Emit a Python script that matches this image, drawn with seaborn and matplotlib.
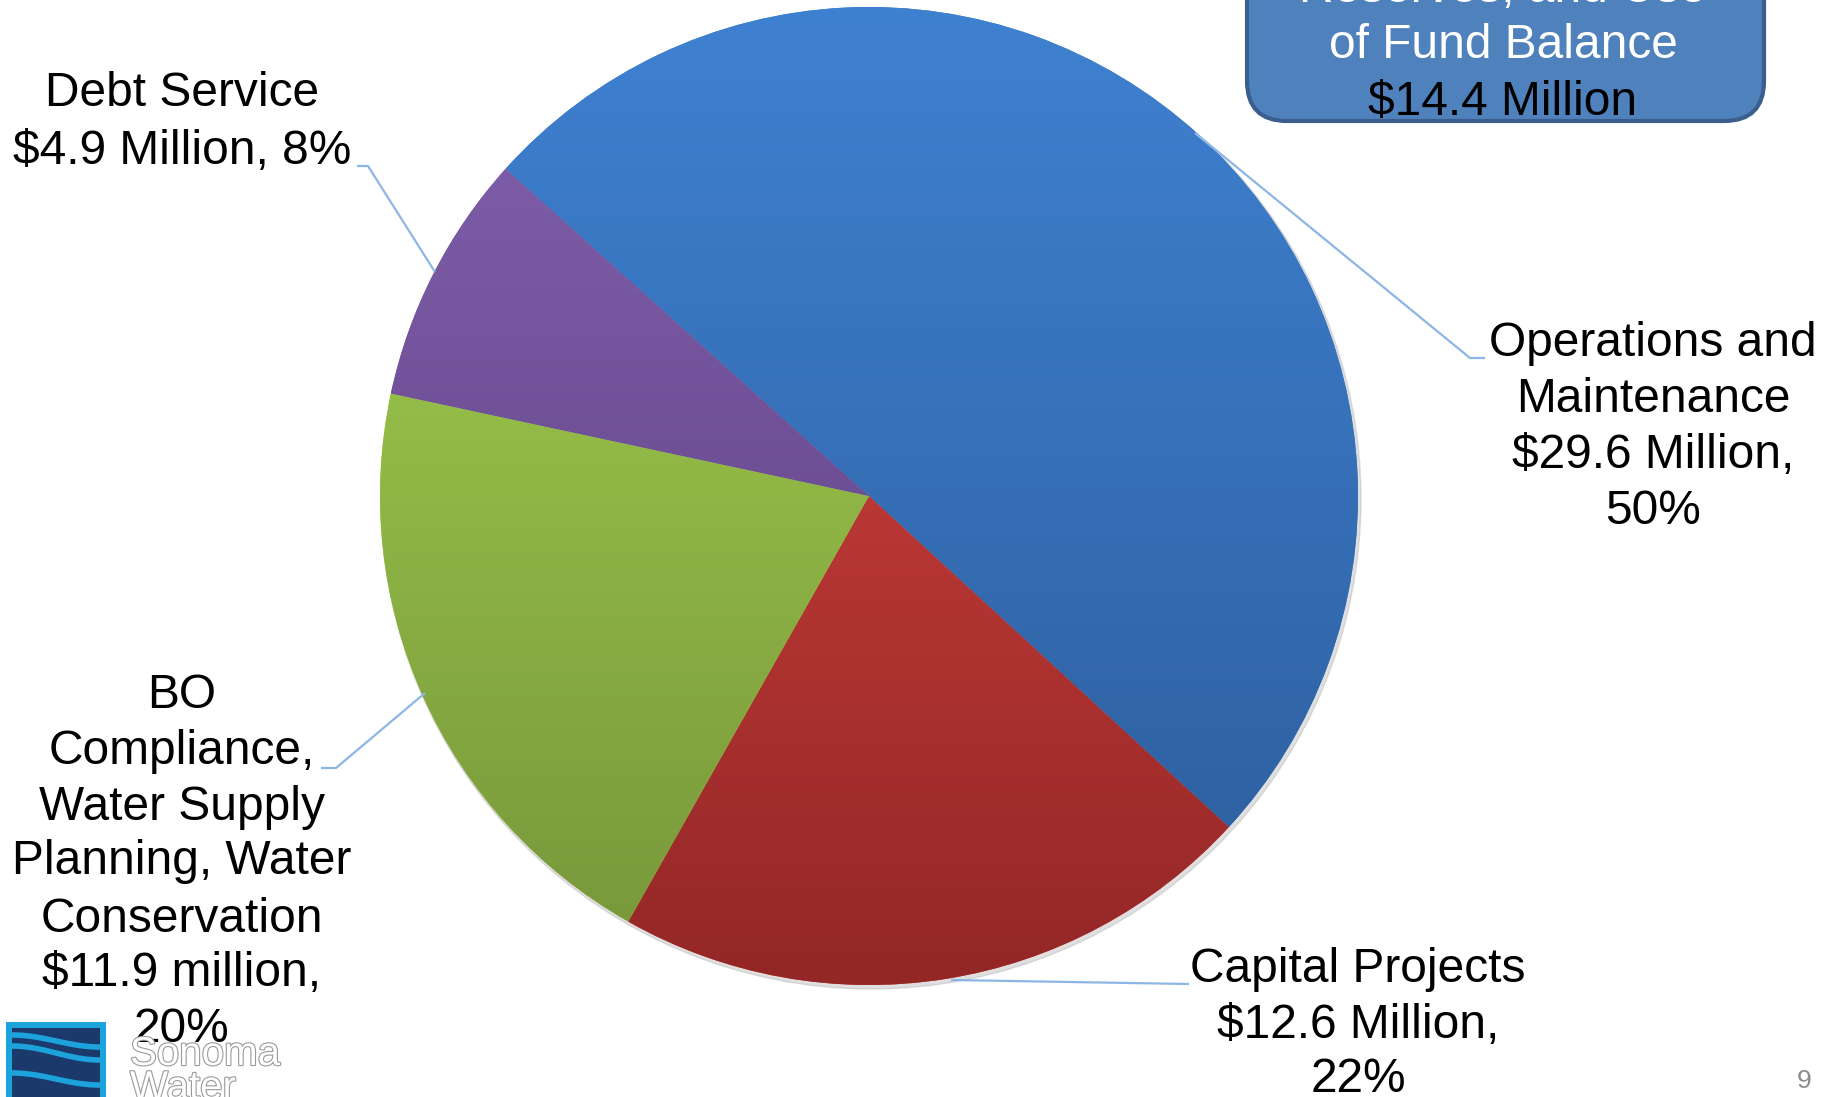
import numpy as np
import matplotlib.pyplot as plt
import matplotlib.patheffects as pe
from matplotlib.colors import LinearSegmentedColormap
from matplotlib.patches import FancyBboxPatch, Rectangle, Circle
import seaborn as sns

# 데이터 (단위: 백만 달러)
categories = ["Operations and Maintenance", "Capital Projects",
              "BO Compliance, Water Supply Planning, Water Conservation",
              "Debt Service"]
amounts = [29.6, 12.6, 11.9, 4.9]
label_lines = [
    ["Operations and", "Maintenance", "$29.6 Million,", "50%"],
    ["Capital Projects", "$12.6 Million,", "22%"],
    ["BO", "Compliance,", "Water Supply", "Planning, Water", "Conservation",
     "$11.9 million,", "20%"],
    ["Debt Service", "$4.9 Million, 8%"],
]
box_lines = ["Reserves, and Use", "of Fund Balance", "$14.4 Million"]

# 조각별 그라데이션 색 (위 -> 아래)
grad_colors = [("#3F81D1", "#2C5C9A"), ("#E04844", "#932726"),
               ("#A8D651", "#76953A"), ("#8562B0", "#553C79")]

sns.set_theme(style="white")
plt.rcParams['font.family'] = ['Liberation Sans', 'DejaVu Sans']

W, H = 1837, 1097
fig = plt.figure(figsize=(W / 100, H / 100), dpi=100)
ax = fig.add_axes([0, 0, 1, 1])

cx, cy, r = 869, 601, 489

# 그림자
ax.add_patch(Circle((cx + 2, cy - 3), r + 1, color="#b8b8b8", alpha=0.45, zorder=1))

wedges, _ = ax.pie(amounts, startangle=138, counterclock=False, center=(cx, cy),
                   radius=r, colors=[c[0] for c in grad_colors],
                   wedgeprops=dict(linewidth=0, zorder=2))

grad = np.linspace(0, 1, 256).reshape(-1, 1)
for w, (c_top, c_bot) in zip(wedges, grad_colors):
    cmap = LinearSegmentedColormap.from_list("g", [c_top, c_bot])
    im = ax.imshow(grad, cmap=cmap, extent=[cx - r, cx + r, cy - r, cy + r],
                   origin="upper", aspect="auto", zorder=3)
    im.set_clip_path(w)

# 연결선
line_color = "#8EB6E4"
connectors = [
    [(1195, 964), (1470, 739), (1485, 739)],
    [(951, 117), (1189, 113)],
    [(425, 404), (336, 329), (321, 329)],
    [(435, 825), (368, 931), (357, 931)],
]
for pts in connectors:
    xs, ys = zip(*pts)
    ax.plot(xs, ys, color=line_color, lw=1.6, zorder=4, solid_capstyle="butt")

# 레이블
fs = 34.5
label_pos = [(1653, [344, 400, 456, 511]),
             (1358, [969, 1025, 1080]),
             (182, [695, 751, 807, 862, 919, 974, 1030]),
             (182, [94, 151])]
for lines, (x, ys) in zip(label_lines, label_pos):
    for txt, y in zip(lines, ys):
        ax.text(x, H - y, txt, ha="center", va="center", fontsize=fs,
                color="black", zorder=6)

# 오른쪽 위 상자
ax.add_patch(FancyBboxPatch((1247, H - 121), 517, 250,
                            boxstyle="round,pad=0,rounding_size=40",
                            fc="#4F81BD", ec="#3A5F8F", lw=3, zorder=5))
for txt, y, col in zip(box_lines, [-11, 45, 103], ["white", "white", "black"]):
    ax.text(1503, H - y, txt, ha="center", va="center", fontsize=fs,
            color=col, zorder=6)

# 로고
ax.add_patch(Rectangle((6, 0), 100, 75, fc="#1CA3DC", ec="none", zorder=5))
ax.add_patch(Rectangle((12, 0), 88, 69, fc="#1B3A6B", ec="none", zorder=5))
xw = np.linspace(12, 100, 60)
for base, amp in [(56, 6), (44, 7), (18, 6)]:
    ax.plot(xw, base + amp * np.cos((xw - 12) / 88 * np.pi), color="#1CA3DC",
            lw=4, zorder=6)
for txt, y in [("Sonoma", 1054), ("Water", 1088)]:
    ax.text(130, H - y, txt, ha="left", va="center", fontsize=29, color="white",
            zorder=7, path_effects=[pe.withStroke(linewidth=1.6, foreground="#9a9a9a")])

ax.text(1804, H - 1081, "9", ha="center", va="center", fontsize=19,
        color="#8C8C8C", zorder=6)

ax.set_xlim(0, W)
ax.set_ylim(0, H)
ax.set_aspect("auto")
ax.axis("off")

fig.savefig("out.png", dpi=100)
